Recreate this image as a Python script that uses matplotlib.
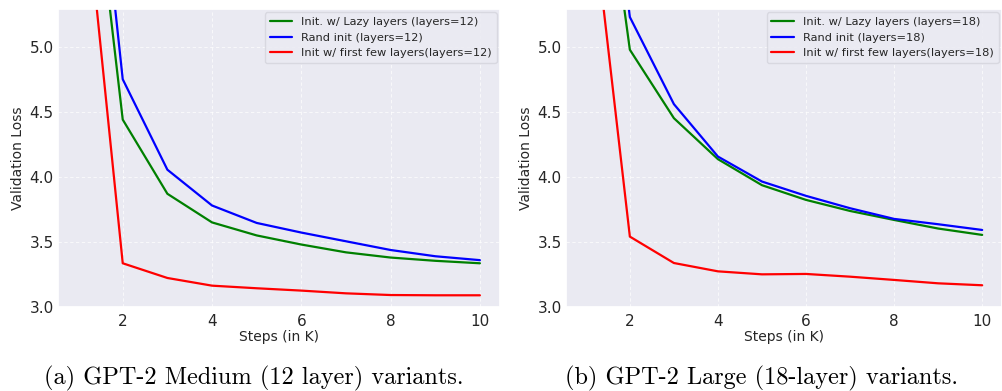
import numpy as np
import matplotlib
matplotlib.use("Agg")
import matplotlib.pyplot as plt
import seaborn as sns

steps = [1, 2, 3, 4, 5, 6, 7, 8, 9, 10]

# GPT-2 Medium (12 layers)
med_lazy = [7.4, 4.44, 3.87, 3.65, 3.55, 3.48, 3.42, 3.38, 3.355, 3.336]
med_rand = [7.95, 4.75, 4.055, 3.78, 3.646, 3.572, 3.505, 3.438, 3.39, 3.36]
med_first = [6.7, 3.336, 3.223, 3.164, 3.144, 3.126, 3.105, 3.092, 3.09, 3.09]

# GPT-2 Large (18 layers)
large_lazy = [7.46, 4.977, 4.451, 4.136, 3.936, 3.823, 3.738, 3.669, 3.603, 3.554]
large_rand = [8.0, 5.228, 4.559, 4.156, 3.964, 3.854, 3.759, 3.677, 3.636, 3.592]
large_first = [6.48, 3.541, 3.338, 3.274, 3.251, 3.254, 3.233, 3.208, 3.182, 3.167]

captions = ["(a) GPT-2 Medium (12 layer) variants.",
            "(b) GPT-2 Large (18-layer) variants."]

sns.set_theme(style="darkgrid")

fig = plt.figure(figsize=(10.03, 3.91), dpi=100)
W, H = 1003, 391
ax1 = fig.add_axes([58 / W, 1 - 307 / H, 442 / W, 298 / H])
ax2 = fig.add_axes([566 / W, 1 - 307 / H, 436 / W, 298 / H])


def draw(ax, lazy, rand, first, n):
    ax.plot(steps, lazy, color="green", lw=1.6, label=f"Init. w/ Lazy layers (layers={n})")
    ax.plot(steps, rand, color="blue", lw=1.6, label=f"Rand init (layers={n})")
    ax.plot(steps, first, color="red", lw=1.6, label=f"Init w/ first few layers(layers={n})")
    ax.set_ylim(3.0, 5.29)
    ax.set_xlim(0.55, 10.45)
    ax.set_xticks([2, 4, 6, 8, 10])
    ax.set_yticks([3.0, 3.5, 4.0, 4.5, 5.0])
    ax.grid(True, color="white", linestyle=(0, (4, 3)), linewidth=0.6, alpha=0.8)
    ax.tick_params(axis="x", labelsize=11, length=0, pad=5)
    ax.tick_params(axis="y", labelsize=11, length=0, pad=3)
    ax.set_xlabel("Steps (in K)", fontsize=10, labelpad=1)
    ax.set_ylabel("Validation Loss", fontsize=10, labelpad=3)
    leg = ax.legend(loc="upper right", fontsize=8.2, borderaxespad=0.3)
    leg.get_frame().set_edgecolor("#d4d4dc")


draw(ax1, med_lazy, med_rand, med_first, 12)
draw(ax2, large_lazy, large_rand, large_first, 18)

fig.text(254 / W, 1 - 378 / H, captions[0], family="cmr10", fontsize=17.5,
         ha="center", va="center", color="black")
fig.text(762 / W, 1 - 378 / H, captions[1], family="cmr10", fontsize=17.5,
         ha="center", va="center", color="black")

fig.savefig("out.png", dpi=100)
